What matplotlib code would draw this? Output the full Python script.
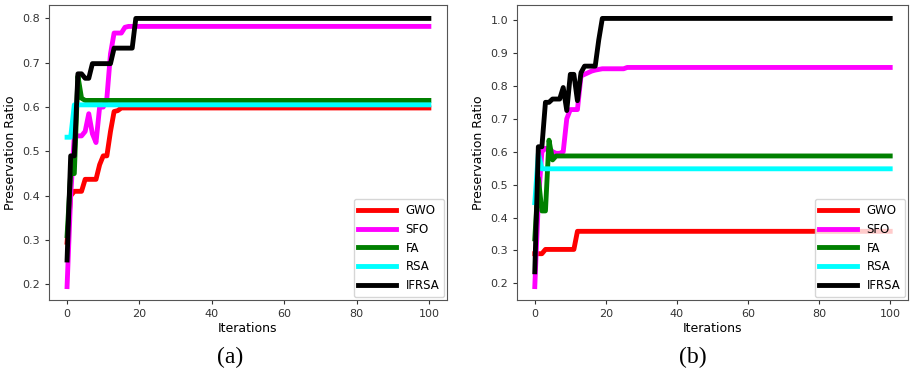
import matplotlib
matplotlib.use('Agg')
import matplotlib.pyplot as plt

# iterations 0..100
iters = list(range(101))
names = ['GWO', 'SFO', 'FA', 'RSA', 'IFRSA']
colors = ['red', 'magenta', 'green', 'cyan', 'black']

# panel (a)
gwo_a = [0.295, 0.40, 0.41, 0.41, 0.41, 0.437, 0.437, 0.437, 0.437, 0.47, 0.49,
         0.49, 0.545, 0.59, 0.592, 0.598] + [0.598] * 85
sfo_a = [0.195, 0.40, 0.535, 0.535, 0.535, 0.545, 0.585, 0.54, 0.52, 0.60, 0.60,
         0.62, 0.72, 0.767, 0.767, 0.767, 0.78, 0.782] + [0.782] * 83
fa_a = [0.31, 0.45, 0.45, 0.67, 0.62, 0.615] + [0.615] * 95
rsa_a = [0.532, 0.532, 0.605] + [0.605] * 98
ifrsa_a = [0.255, 0.49, 0.49, 0.675, 0.675, 0.665, 0.665, 0.698, 0.698, 0.698, 0.698,
           0.698, 0.698, 0.733, 0.733, 0.733, 0.733, 0.733, 0.733, 0.80] + [0.80] * 81

# panel (b)
gwo_b = [0.29, 0.29, 0.29, 0.303, 0.303, 0.303, 0.303, 0.303, 0.303, 0.303, 0.303,
         0.303, 0.358] + [0.358] * 88
sfo_b = [0.19, 0.45, 0.60, 0.61, 0.61, 0.60, 0.595, 0.595, 0.60, 0.70, 0.728,
         0.728, 0.728, 0.83, 0.835, 0.84, 0.845, 0.848, 0.85, 0.852, 0.852, 0.852,
         0.852, 0.852, 0.852, 0.852] + [0.856] * 75
fa_b = [0.335, 0.52, 0.42, 0.42, 0.635, 0.575, 0.587] + [0.587] * 94
rsa_b = [0.445, 0.595, 0.548] + [0.548] * 98
ifrsa_b = [0.235, 0.615, 0.615, 0.75, 0.75, 0.76, 0.76, 0.76, 0.795, 0.725, 0.835,
           0.835, 0.755, 0.84, 0.86, 0.86, 0.86, 0.86, 0.94, 1.005] + [1.005] * 81

fig = plt.figure(figsize=(9.12, 3.77), dpi=100)
ax1 = fig.add_axes([0.0537, 0.2042, 0.4364, 0.7825])
ax2 = fig.add_axes([0.5669, 0.2042, 0.4287, 0.7825])

panels = [(ax1, [gwo_a, sfo_a, fa_a, rsa_a, ifrsa_a], '(a)', 0.252),
          (ax2, [gwo_b, sfo_b, fa_b, rsa_b, ifrsa_b], '(b)', 0.760)]

for ax, series, tag, tx in panels:
    for name, c, ys in zip(names, colors, series):
        ax.plot(iters, ys, color=c, lw=3.5, label=name)
    ax.set_xlabel('Iterations', fontsize=9, labelpad=2)
    ax.set_ylabel('Preservation Ratio', fontsize=9, labelpad=4)
    ax.tick_params(labelsize=8, length=3, colors='#333333')
    for s in ax.spines.values():
        s.set_color('#555555')
    ax.legend(loc='lower right', fontsize=8.5, handlelength=3.2, borderaxespad=0.25)
    fig.text(tx, 0.025, tag, ha='center', va='bottom',
             fontsize=17, family='Liberation Serif')

fig.savefig('out.png', dpi=100)
